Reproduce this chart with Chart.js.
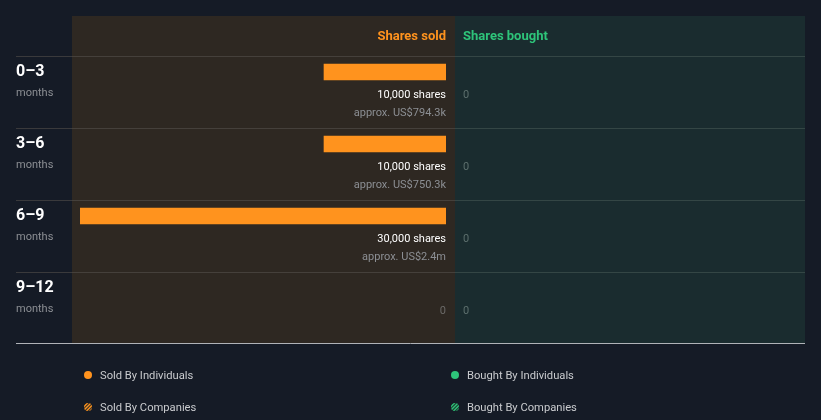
<!DOCTYPE html>
<html>
<head>
<meta charset="utf-8">
<script src="https://cdn.jsdelivr.net/npm/chart.js@4/dist/chart.umd.min.js"></script>
<style>
html,body{margin:0;padding:0;background:#151b26;}
canvas{display:block;}
</style>
</head>
<body>
<canvas id="c" width="821" height="420"></canvas>
<script>
const periods = ["0\u20133", "3\u20136", "6\u20139", "9\u201312"];
const periodUnit = "months";
const sharesSold = [10000, 10000, 30000, 0];
const sharesBought = [0, 0, 0, 0];
const soldValue = ["US$794.3k", "US$750.3k", "US$2.4m", null];
const legendItems = ["Sold By Individuals", "Sold By Companies", "Bought By Individuals", "Bought By Companies"];

const ORANGE = "#ff931e";
const GREEN = "#2ec47a";
const BG = "#151b26";
const SOLD_BG = "#2e2822";
const BOUGHT_BG = "#1a2c2f";
const FONT = "Roboto, 'Open Sans', sans-serif";

const panelPlugin = {
  id: "panels",
  beforeDraw(chart) {
    const ctx = chart.ctx;
    const ys = chart.scales.y, xs = chart.scales.x;
    const zeroX = xs.getPixelForValue(0);
    const top = 16;
    const lastRowBottom = ys.getPixelForValue(periods.length - 1) - 16 + 71;
    ctx.save();
    ctx.fillStyle = BG;
    ctx.fillRect(0, 0, chart.width, chart.height);
    ctx.fillStyle = SOLD_BG;
    ctx.fillRect(72, top, zeroX + 9 - 72, lastRowBottom - top);
    ctx.fillStyle = BOUGHT_BG;
    ctx.fillRect(zeroX + 9, top, 805 - (zeroX + 9), lastRowBottom - top);
    ctx.font = "bold 13px " + FONT;
    ctx.textBaseline = "middle";
    ctx.textAlign = "right";
    ctx.fillStyle = ORANGE;
    ctx.fillText("Shares sold", zeroX, top + 20.5);
    ctx.textAlign = "left";
    ctx.fillStyle = GREEN;
    ctx.fillText("Shares bought", zeroX + 17, top + 20.5);
    periods.forEach((p, i) => {
      const y = Math.round(ys.getPixelForValue(i) - 16) + 0.5;
      ctx.lineWidth = 1;
      ctx.strokeStyle = "#3a3a3c";
      ctx.beginPath(); ctx.moveTo(16, y); ctx.lineTo(72, y); ctx.stroke();
      ctx.strokeStyle = "#45403b";
      ctx.beginPath(); ctx.moveTo(72, y); ctx.lineTo(zeroX + 9, y); ctx.stroke();
      ctx.strokeStyle = "#344645";
      ctx.beginPath(); ctx.moveTo(zeroX + 9, y); ctx.lineTo(805, y); ctx.stroke();
      const cy = ys.getPixelForValue(i);
      ctx.textAlign = "left";
      ctx.fillStyle = "#ffffff";
      ctx.font = "bold 16px " + FONT;
      ctx.fillText(p, 16, cy - 0.5);
      ctx.fillStyle = "#8c8f94";
      ctx.font = "11px " + FONT;
      ctx.fillText(periodUnit, 16, cy + 21);
    });
    ctx.strokeStyle = "#b0b3b8";
    ctx.beginPath(); ctx.moveTo(16, lastRowBottom + 0.5); ctx.lineTo(805, lastRowBottom + 0.5); ctx.stroke();
    ctx.restore();
  },
  afterDatasetsDraw(chart) {
    const ctx = chart.ctx;
    const ys = chart.scales.y, xs = chart.scales.x;
    const zeroX = xs.getPixelForValue(0);
    ctx.save();
    ctx.textBaseline = "middle";
    periods.forEach((p, i) => {
      const cy = ys.getPixelForValue(i);
      ctx.font = "11px " + FONT;
      if (sharesSold[i] > 0) {
        ctx.textAlign = "right";
        ctx.fillStyle = "#ffffff";
        ctx.fillText(sharesSold[i].toLocaleString("en-US") + " shares", zeroX, cy + 23);
        ctx.fillStyle = "#8c8f94";
        ctx.fillText("approx. " + soldValue[i], zeroX, cy + 41);
      } else {
        ctx.textAlign = "right";
        ctx.fillStyle = "#6b6a68";
        ctx.fillText(String(sharesSold[i]), zeroX, cy + 23);
      }
      ctx.textAlign = "left";
      ctx.fillStyle = "#5d6f6d";
      ctx.fillText(String(sharesBought[i]), zeroX + 17, cy + 23);
    });
    const drawDot = (x, y, color) => {
      ctx.fillStyle = color;
      ctx.beginPath(); ctx.arc(x, y, 4, 0, Math.PI * 2); ctx.fill();
    };
    const drawHatch = (x, y, color) => {
      ctx.save();
      ctx.beginPath(); ctx.arc(x, y, 4, 0, Math.PI * 2); ctx.clip();
      ctx.fillStyle = color === GREEN ? "#1d3a30" : "#3a3226";
      ctx.fillRect(x - 4, y - 4, 8, 8);
      ctx.strokeStyle = color; ctx.lineWidth = 1.3;
      for (let k = -8; k <= 8; k += 3.5) {
        ctx.beginPath(); ctx.moveTo(x - 5 + k, y + 5); ctx.lineTo(x + 5 + k, y - 5); ctx.stroke();
      }
      ctx.restore();
    };
    ctx.font = "11.2px " + FONT;
    ctx.textAlign = "left";
    const lx1 = 88, lx2 = 455, ly1 = 375, ly2 = 407;
    drawDot(lx1, ly1, ORANGE);
    drawHatch(lx1, ly2, ORANGE);
    drawDot(lx2, ly1, GREEN);
    drawHatch(lx2, ly2, GREEN);
    ctx.fillStyle = "#c9cbce";
    ctx.fillText(legendItems[0], lx1 + 12, ly1 + 1);
    ctx.fillText(legendItems[1], lx1 + 12, ly2 + 1);
    ctx.fillText(legendItems[2], lx2 + 12, ly1 + 1);
    ctx.fillText(legendItems[3], lx2 + 12, ly2 + 1);
    ctx.restore();
  }
};

new Chart(document.getElementById("c"), {
  type: "bar",
  data: {
    labels: periods,
    datasets: [{
      label: "Shares sold",
      data: sharesSold,
      backgroundColor: (c) => (c.raw > 0 ? ORANGE : "rgba(0,0,0,0)"),
      borderWidth: 0,
      barThickness: 16
    }]
  },
  options: {
    indexAxis: "y",
    responsive: false,
    animation: false,
    layout: { padding: { left: 80, right: 375, top: 36, bottom: 96 } },
    scales: {
      x: { display: false, reverse: true, min: 0, max: 30000 },
      y: { display: false, offset: true }
    },
    plugins: { legend: { display: false }, tooltip: { enabled: false } }
  },
  plugins: [panelPlugin]
});
</script>
</body>
</html>
